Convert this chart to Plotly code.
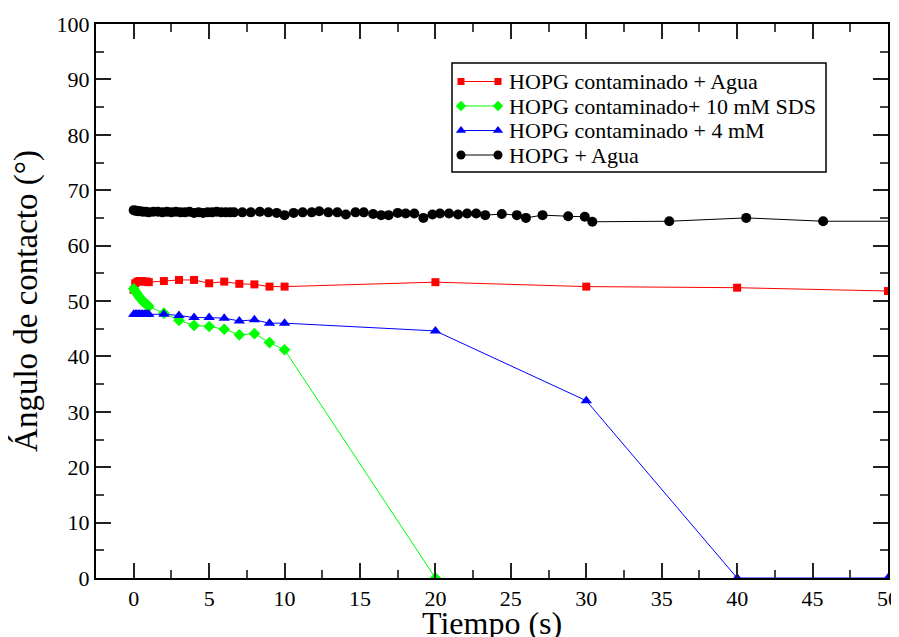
import plotly.graph_objects as go

# ---- data ----
black_t = [0, 0.1, 0.2, 0.3, 0.45, 0.6, 0.8, 1.0, 1.3, 1.6, 1.9, 2.2, 2.5, 2.8, 3.1, 3.4, 3.7, 4.0,
           4.3, 4.6, 4.9, 5.2, 5.5, 5.8, 6.1, 6.4, 6.65, 7.2, 7.76, 8.36, 8.93, 9.48, 10.0, 10.6,
           11.2, 11.8, 12.3, 12.9, 13.5, 14.06, 14.7, 15.25, 15.87, 16.4, 16.9, 17.5, 18.03, 18.6,
           19.2, 19.8, 20.3, 20.9, 21.5, 22.1, 22.7, 23.3, 24.4, 25.4, 26.0, 27.1, 28.8, 29.9,
           30.4, 35.5, 40.6, 45.7, 50.8]
black_v = [66.4, 66.3, 66.3, 66.2, 66.2, 66.1, 66.1, 66.0, 66.1, 66.1, 66.0, 66.1, 66.0, 66.1, 66.0,
           66.0, 66.1, 65.9, 66.0, 65.9, 66.0, 66.0, 66.1, 66.0, 66.0, 66.0, 66.0, 66.0, 66.0, 66.1,
           66.0, 65.9, 65.5, 65.9, 66.0, 66.0, 66.2, 66.0, 66.0, 65.6, 66.0, 66.0, 65.7, 65.5, 65.5,
           65.9, 65.8, 65.8, 65.0, 65.6, 65.8, 65.8, 65.6, 65.8, 65.8, 65.5, 65.7, 65.5, 65.0, 65.5,
           65.3, 65.2, 64.3, 64.4, 65.0, 64.4, 64.4]

red_t = [0, 0.1, 0.25, 0.4, 0.55, 0.7, 0.85, 1.0, 2, 3, 4, 5, 6, 7, 8, 9, 10, 20, 30, 40, 50]
red_v = [52.0, 53.2, 53.5, 53.6, 53.6, 53.5, 53.5, 53.4, 53.6, 53.8, 53.8, 53.2, 53.5, 53.1, 53.0,
         52.6, 52.6, 53.4, 52.6, 52.4, 51.8]

green_t = [0, 0.1, 0.2, 0.3, 0.4, 0.5, 0.6, 0.7, 0.8, 0.9, 1.0, 2, 3, 4, 5, 6, 7, 8, 9, 10, 20]
green_v = [52.2, 51.8, 51.4, 51.0, 50.6, 50.3, 50.0, 49.7, 49.5, 49.3, 49.0, 47.8, 46.5, 45.6, 45.4,
           44.9, 43.9, 44.1, 42.5, 41.2, 0]

blue_t = [0, 0.1, 0.2, 0.3, 0.4, 0.5, 0.6, 0.7, 0.8, 0.9, 1.0, 2, 3, 4, 5, 6, 7, 8, 9, 10, 20, 30, 40, 50]
blue_v = [47.6, 47.6, 47.6, 47.6, 47.6, 47.6, 47.6, 47.6, 47.6, 47.6, 47.6, 47.6, 47.4, 47.0, 47.0,
          46.9, 46.4, 46.6, 46.0, 46.0, 44.6, 32.0, 0, 0]

names = ["HOPG contaminado + Agua", "HOPG contaminado+ 10 mM SDS",
         "HOPG contaminado + 4 mM", "HOPG + Agua"]

x_title = "Tiempo (s)"
y_title = "Ángulo de contacto (°)"

FONT = "Liberation Serif"

# page places the figure at an 8px body offset; compensate
W, H = 891, 629
ML, MR, MT, MB = 88, 11, 16, 59
PW, PH = W - ML - MR, H - MT - MB


def px(x):  # screen x -> paper
    return (x - 96) / PW


def py(y):  # screen y -> paper
    return (578 - y) / PH


styles = [
    dict(color="#ff0000", symbol="square", size=8),
    dict(color="#00ff00", symbol="diamond", size=9),
    dict(color="#0000ff", symbol="triangle-up", size=10),
    dict(color="#000000", symbol="circle", size=10),
]
series = [(red_t, red_v), (green_t, green_v), (blue_t, blue_v), (black_t, black_v)]

fig = go.Figure()
for (t, v), st, nm in zip(series, styles, names):
    fig.add_trace(go.Scatter(x=t, y=v, name=nm, mode="lines+markers", showlegend=False,
                             line=dict(color=st["color"], width=1),
                             marker=dict(symbol=st["symbol"], size=st["size"], color=st["color"])))

# ---- hand-made legend (Grace style: line with a marker at both ends) ----
leg_left, leg_top, leg_right, leg_bottom = 452, 63, 826, 172
row_y = [81.5, 106, 130.5, 155]
sym_x0, sym_x1, text_x = 461, 498, 507

fig.add_shape(type="rect", xref="paper", yref="paper",
              x0=px(leg_left), x1=px(leg_right), y0=py(leg_bottom), y1=py(leg_top),
              line=dict(color="black", width=1.5), fillcolor="rgba(0,0,0,0)", layer="above")

for st, nm, ry in zip(styles, names, row_y):
    fig.add_trace(go.Scatter(x=[px(sym_x0), px(sym_x1)], y=[py(ry), py(ry)],
                             xaxis="x2", yaxis="y2", mode="lines+markers", showlegend=False,
                             hoverinfo="skip", cliponaxis=False,
                             line=dict(color=st["color"], width=1),
                             marker=dict(symbol=st["symbol"], size=st["size"] - 1, color=st["color"])))
    fig.add_annotation(x=px(text_x), y=py(ry), xref="paper", yref="paper", text=nm,
                       showarrow=False, xanchor="left", yanchor="middle",
                       font=dict(family=FONT, size=22, color="black"))

# x-axis title placed as annotation below the tick labels
fig.add_annotation(x=0.5, y=py(623), xref="paper", yref="paper", text=x_title,
                   showarrow=False, xanchor="center", yanchor="middle",
                   font=dict(family=FONT, size=32, color="black"))

axis_common = dict(showline=True, linecolor="black", linewidth=2, mirror="allticks",
                   ticks="inside", ticklen=15, tickwidth=1.5, tickcolor="#222",
                   showgrid=False, zeroline=False, automargin=False,
                   tickfont=dict(family=FONT, size=22, color="black"))

xaxis = dict(range=[-2.5, 50], dtick=5, tick0=0,
             minor=dict(dtick=2.5, tick0=0, ticks="inside", ticklen=8, tickwidth=1.5, tickcolor="#444"),
             **axis_common)
yaxis = dict(range=[0, 100], dtick=10, tick0=0,
             minor=dict(dtick=5, tick0=0, ticks="inside", ticklen=8, tickwidth=1.5, tickcolor="#444"),
             title=dict(text=y_title, font=dict(family=FONT, size=33, color="black")),
             **axis_common)

fig.update_layout(
    width=W, height=H,
    margin=dict(l=ML, r=MR, t=MT, b=MB),
    paper_bgcolor="white", plot_bgcolor="white",
    font=dict(family=FONT, color="black"),
    showlegend=False,
    xaxis=xaxis, yaxis=yaxis,
    xaxis2=dict(domain=[0, 1], range=[0, 1], overlaying="x", anchor="y2", visible=False, fixedrange=True),
    yaxis2=dict(domain=[0, 1], range=[0, 1], overlaying="y", anchor="x2", visible=False, fixedrange=True),
)

fig.write_html("out.html")
